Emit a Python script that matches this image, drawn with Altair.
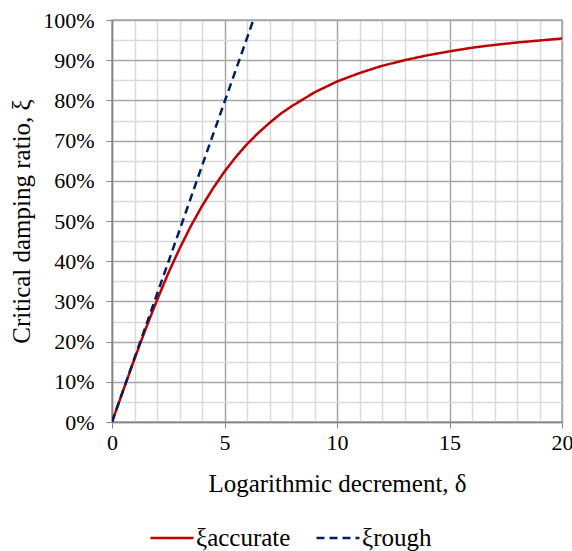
import altair as alt
import pandas as pd

# Logarithmic decrement values (x) and read critical damping ratios
delta_acc = [0, 0.5, 1, 1.5, 2, 2.5, 3, 3.5, 4, 4.5, 5, 5.5, 6, 6.5, 7, 7.5, 8, 9, 10,
             11, 12, 13, 14, 15, 16, 17, 18, 19, 20]
xi_acc = [0.0, 0.079, 0.157, 0.232, 0.303, 0.370, 0.431, 0.487, 0.537, 0.582, 0.623,
          0.659, 0.691, 0.719, 0.744, 0.767, 0.786, 0.820, 0.847, 0.868, 0.886, 0.900,
          0.912, 0.922, 0.931, 0.938, 0.944, 0.949, 0.954]

delta_rough = [0, 1, 2, 3, 4, 5, 6, 6.28]
xi_rough = [0.0, 0.159, 0.318, 0.477, 0.637, 0.796, 0.955, 1.0]

series_names = ["ξaccurate", "ξrough"]
series_colors = ["#c00000", "#002060"]

x_ticks = list(range(0, 21))
y_ticks = [i / 20 for i in range(0, 21)]

df = pd.concat([
    pd.DataFrame({"delta": delta_acc, "xi": xi_acc, "series": series_names[0]}),
    pd.DataFrame({"delta": delta_rough, "xi": xi_rough, "series": series_names[1]}),
])

FONT = "Liberation Serif"
MAJOR = "#a6a6a6"
MINOR = "#d9d9d9"

legend = alt.Legend(title=None, orient="none", direction="horizontal",
                    legendX=37, legendY=495,
                    symbolType="stroke", symbolSize=1850,
                    symbolStrokeWidth=2.5, columnPadding=20,
                    labelOffset=1)

chart = alt.Chart(df).mark_line(strokeWidth=2.5, clip=True).encode(
    x=alt.X("delta:Q",
            scale=alt.Scale(domain=[0, 20], nice=False),
            axis=alt.Axis(
                title="Logarithmic decrement, δ",
                values=x_ticks,
                labelExpr="datum.value % 5 === 0 ? datum.label : ''",
                gridColor={"condition": {"test": "datum.value % 5 === 0", "value": MAJOR}, "value": MINOR},
                tickColor={"condition": {"test": "datum.value % 5 === 0", "value": "#868686"}, "value": "transparent"},
                tickSize=6,
                labelPadding=4,
                labelFlush=False,
                labelOverlap=False,
                titlePadding=18,
                domainColor="#868686",
                domainWidth=1.5,
                gridWidth=1.5,
            )),
    y=alt.Y("xi:Q",
            scale=alt.Scale(domain=[0, 1], nice=False),
            axis=alt.Axis(
                title="Critical damping ratio, ξ",
                values=y_ticks,
                format=".0%",
                labelExpr="round(datum.value*100) % 10 === 0 ? datum.label : ''",
                gridColor={"condition": {"test": "round(datum.value*100) % 10 === 0", "value": MAJOR}, "value": MINOR},
                tickColor={"condition": {"test": "round(datum.value*100) % 10 === 0", "value": "#868686"}, "value": "transparent"},
                tickSize=6,
                labelPadding=12,
                labelFlush=False,
                labelOverlap=False,
                titlePadding=8,
                domainColor="#868686",
                domainWidth=1.5,
                gridWidth=1.5,
            )),
    color=alt.Color("series:N",
                    scale=alt.Scale(domain=series_names, range=series_colors),
                    legend=legend),
    strokeDash=alt.StrokeDash("series:N",
                              scale=alt.Scale(domain=series_names, range=[[1, 0], [8, 5]]),
                              legend=legend),
).properties(
    width=450,
    height=402,
    autosize="none",
    background="white",
    padding={"left": 112, "top": 20, "right": 10, "bottom": 129},
).configure_view(
    stroke=MAJOR, strokeWidth=1.5
).configure_axis(
    labelFont=FONT, titleFont=FONT, labelFontSize=22, titleFontSize=25,
    labelColor="#000", titleColor="#000", titleFontWeight="normal",
).configure_legend(
    labelFont=FONT, labelFontSize=25, labelColor="#000", labelLimit=300
)

chart.save("out.html", embed_options={"renderer": "svg", "actions": False})
